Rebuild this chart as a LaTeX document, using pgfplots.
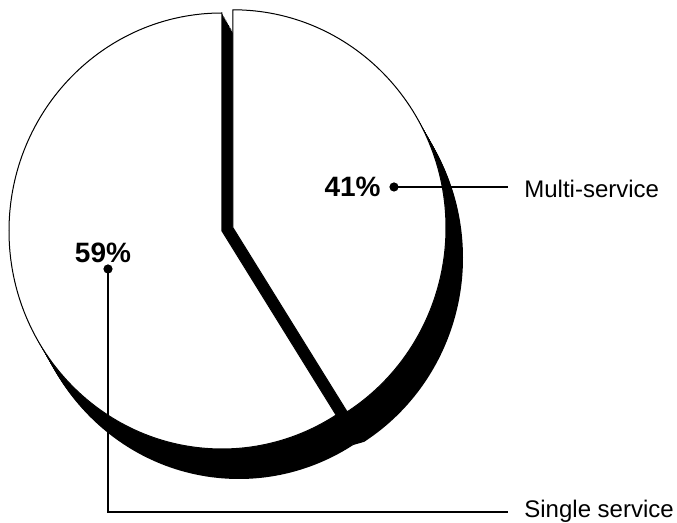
\documentclass[border=0pt]{standalone}
\usepackage{fontspec}
\setmainfont{Liberation Sans}
\usepackage{pgfplots}
\usepackage{pgfplotstable}
\pgfplotsset{compat=1.18}

% shares in percent
\pgfplotstableread{
label share
Multi 41
Single 59
}\pietable

\begin{document}
\begin{tikzpicture}
\pgfplotstablegetelem{0}{share}\of\pietable
\pgfmathsetmacro{\multi}{\pgfplotsretval}
\pgfmathsetmacro{\angB}{90-3.6*\multi}
\pgfmathsetmacro{\angC}{\angB+360}
\pgfmathsetmacro{\gx}{106.5*cos(\angB)}
\pgfmathsetmacro{\gy}{109*sin(\angB)}
% 1 px of the reference = 0.5pt
\newcommand\sliceSingle{(axis cs:222,292) -- ++(0pt,109pt) arc[start angle=90, end angle=\angC, x radius=106.5pt, y radius=109pt] -- cycle}
\newcommand\sliceMulti{(axis cs:233,295.2) -- ++(0pt,109pt) arc[start angle=90, end angle=\angB, x radius=106.5pt, y radius=109pt] -- cycle}
\newcommand\sliceGap{(axis cs:222,292) -- ++(\gx pt,\gy pt) -- ++(5.5pt,1.6pt) -- (axis cs:233,295.2) -- cycle}
\begin{axis}[x=0.5pt, y=0.5pt, xmin=0, xmax=677, ymin=0, ymax=523,
  hide axis, clip=false, disabledatascaling, scale only axis]
\path (axis cs:0,0) rectangle (axis cs:677,523);
% drop shadow
\pgfplotsinvokeforeach{0,0.05,...,1.0001}{
  \fill[black, xshift={#1*8.5pt}, yshift={-#1*15pt}] \sliceSingle;
  \fill[black, xshift={#1*8.5pt}, yshift={-#1*15pt}] \sliceMulti;
  \fill[black, xshift={#1*8.5pt}, yshift={-#1*15pt}] \sliceGap;
}
% slices
\filldraw[fill=white, draw=black, line width=0.5pt] \sliceSingle;
\filldraw[fill=white, draw=black, line width=0.5pt] \sliceMulti;
% labels
\node[anchor=east, inner sep=0pt, font=\bfseries\fontsize{14}{14}\selectfont] at (axis cs:381,336) {41\%};
\fill (axis cs:394,336) circle[radius=2.3pt];
\draw[line width=0.7pt] (axis cs:394,336) -- (axis cs:508,336);
\node[anchor=base west, inner sep=0pt, font=\fontsize{12}{12}\selectfont] at (axis cs:524,325) {Multi-service};
\node[inner sep=0pt, font=\bfseries\fontsize{14}{14}\selectfont] at (axis cs:103,270) {59\%};
\fill (axis cs:108,254) circle[radius=2.3pt];
\draw[line width=0.7pt] (axis cs:108,254) -- (axis cs:108,11) -- (axis cs:508,11);
\node[anchor=base west, inner sep=0pt, font=\fontsize{12}{12}\selectfont] at (axis cs:524,5) {Single service};
\end{axis}
\end{tikzpicture}
\end{document}
